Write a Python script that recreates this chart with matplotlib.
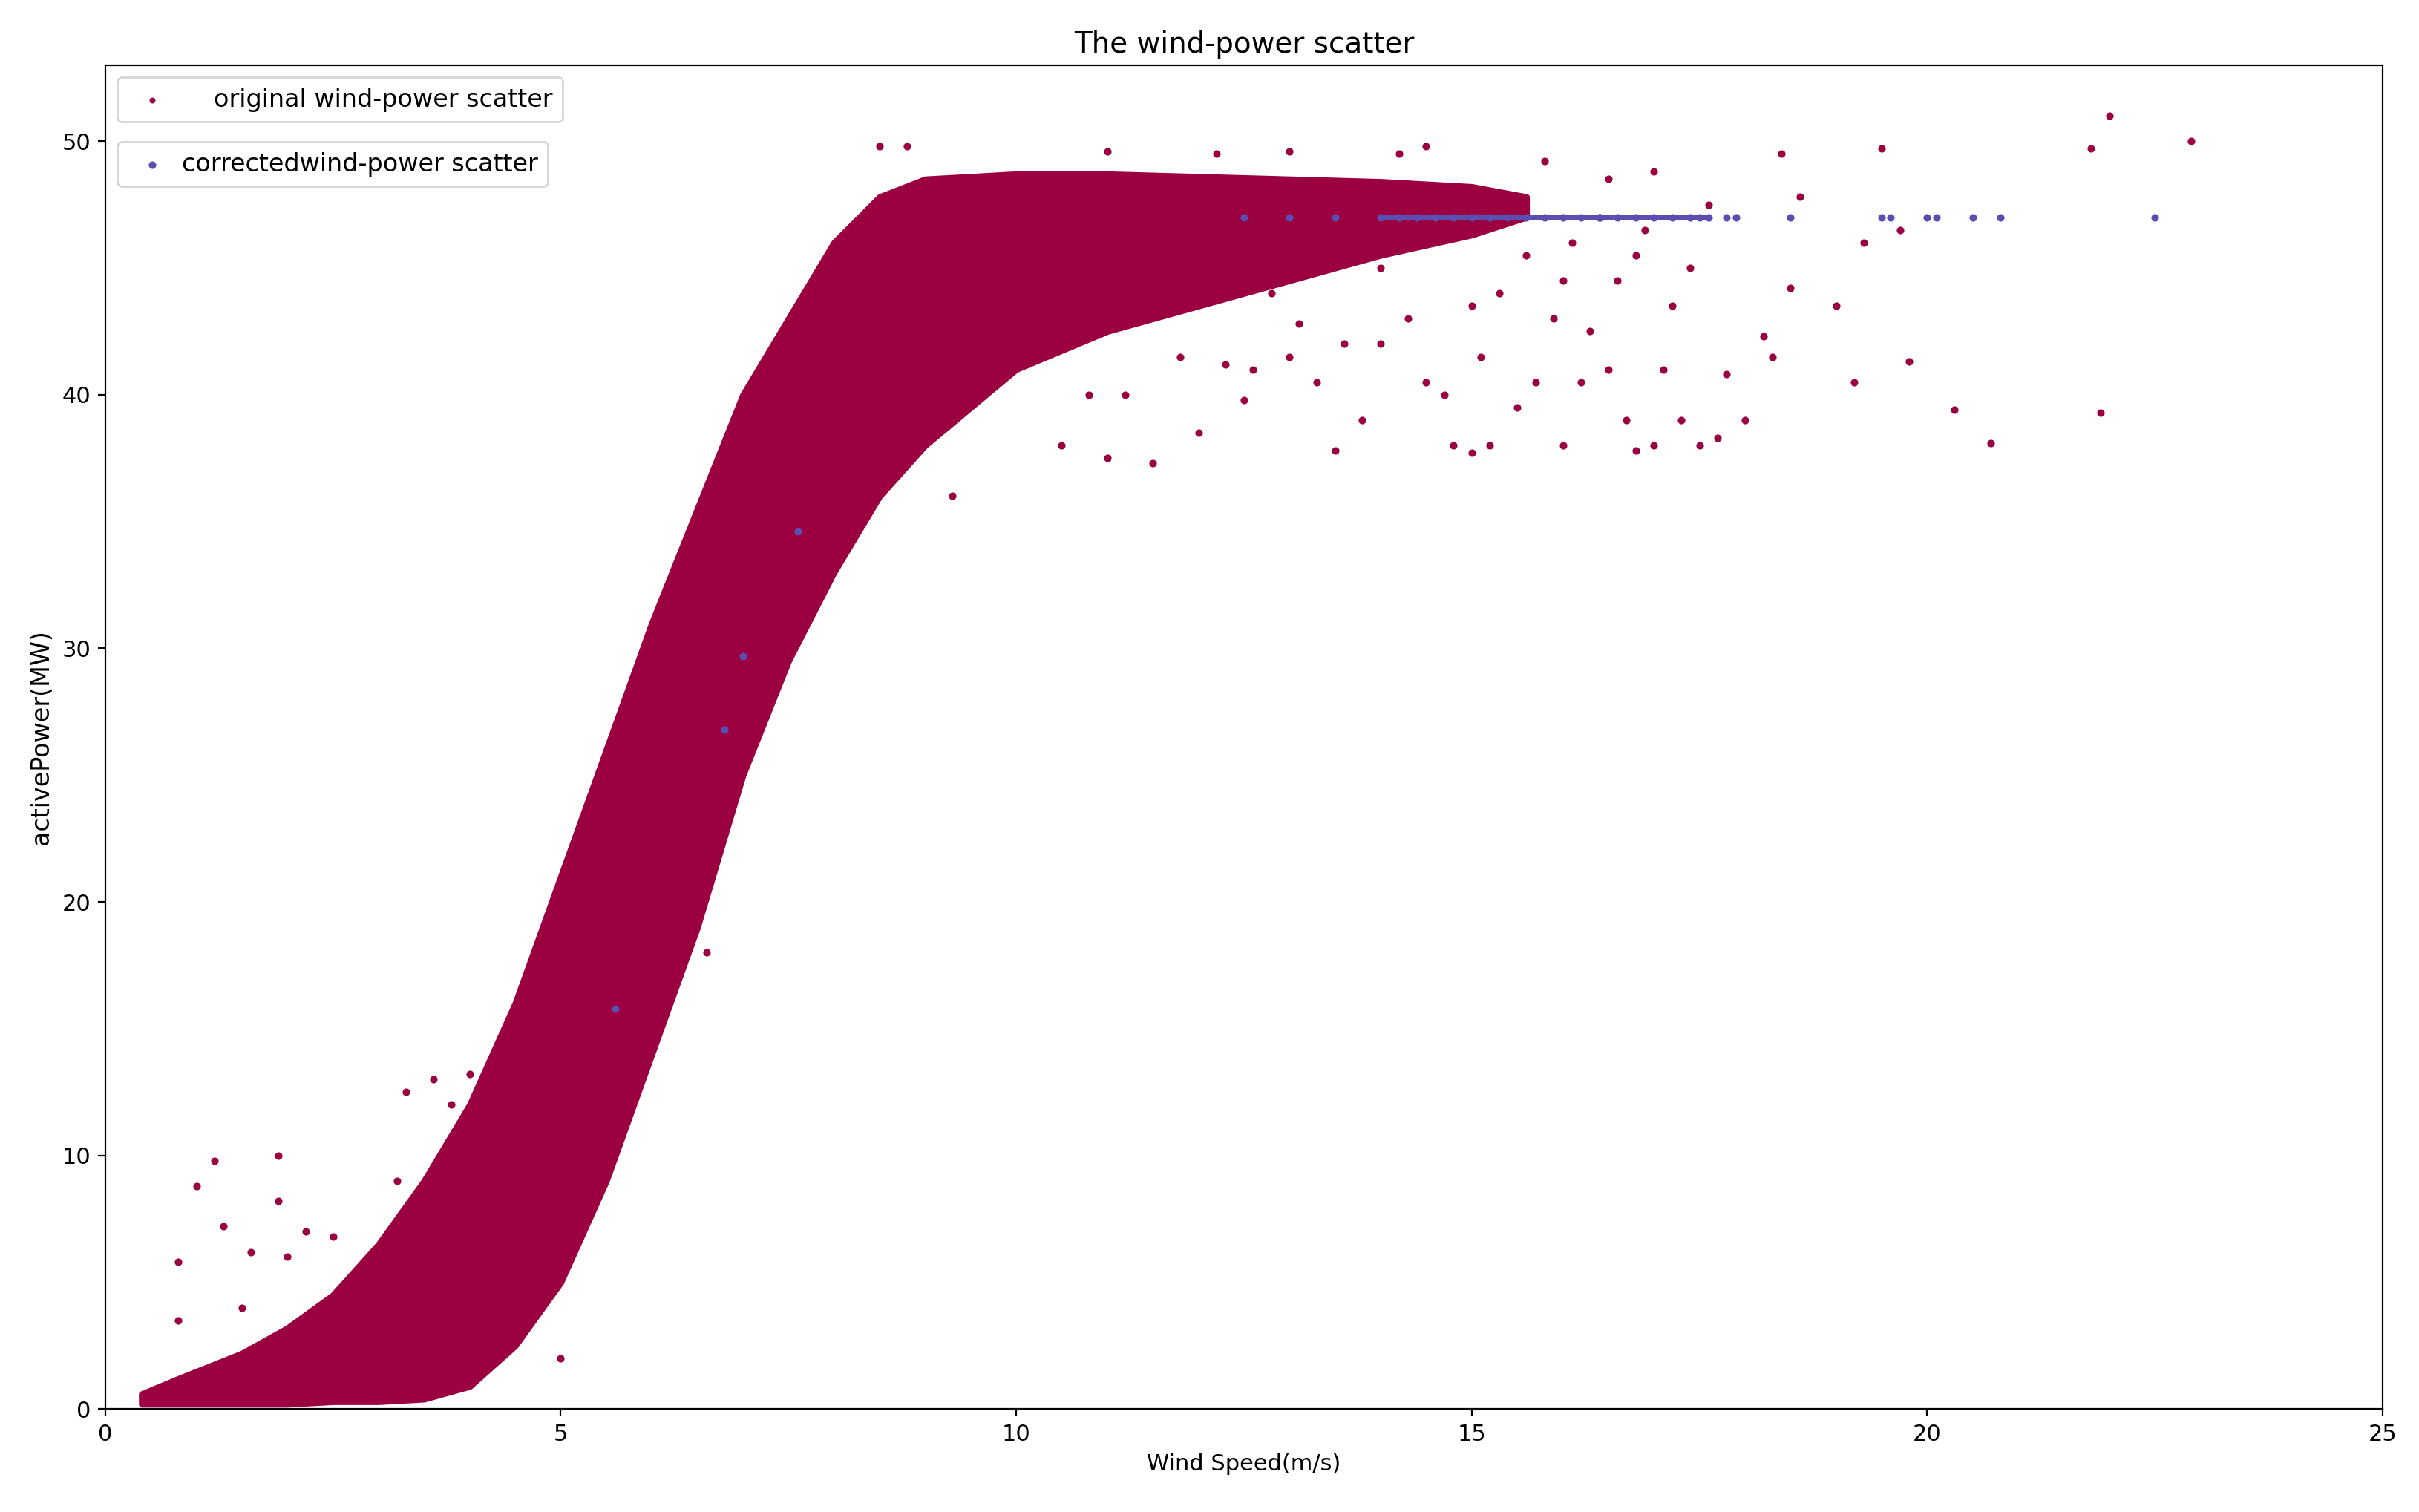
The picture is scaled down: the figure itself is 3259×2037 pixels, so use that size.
import matplotlib
matplotlib.use("Agg")
import matplotlib.pyplot as plt

plt.rcParams['font.family'] = ['DejaVu Sans']

# Dense band of original scatter: wind speed, lower and upper power edge (MW)
band_x = [0.4, 0.8, 1.5, 2.0, 2.5, 3.0, 3.5, 4.0, 4.5, 5.0, 5.5, 6.0, 6.5, 7.0, 7.5, 8.0, 8.5, 9.0, 9.5, 10.0, 11.0, 12.0, 13.0, 14.0, 15.0, 15.6]
band_lo = [0.2, 0.2, 0.2, 0.2, 0.3, 0.3, 0.4, 0.9, 2.5, 5.0, 9.0, 14.0, 19.0, 25.0, 29.5, 33.0, 36.0, 38.0, 39.5, 41.0, 42.5, 43.5, 44.5, 45.5, 46.3, 47.0]
band_hi = [0.6, 1.2, 2.2, 3.2, 4.5, 6.5, 9.0, 12.0, 16.0, 21.0, 26.0, 31.0, 35.5, 40.0, 43.0, 46.0, 47.8, 48.5, 48.6, 48.7, 48.7, 48.6, 48.5, 48.4, 48.2, 47.8]

# Sparse original points
orig_x = [0.5, 0.8, 0.8, 1.0, 1.2, 1.3, 1.5, 1.6, 1.9, 1.9, 2.0, 2.2, 2.5, 2.8, 3.2, 3.3, 3.6, 3.8, 4.0, 4.2, 5.0, 4.9, 5.5, 6.6, 7.2, 7.5, 8.5, 8.8, 9.0, 9.3, 10.5, 11.0, 11.2, 11.5, 12.0, 12.5, 13.0, 13.3, 13.5, 13.8, 14.0, 14.2, 14.5, 14.8, 15.0, 15.2, 15.5, 15.7, 16.0, 16.2, 16.5, 16.7, 16.8, 17.0, 17.1, 17.3, 17.5, 17.7, 17.8, 18.0, 18.2, 18.3, 18.4, 18.5, 18.6, 19.0, 19.2, 19.3, 19.5, 19.7, 19.8, 20.3, 20.7, 21.8, 21.9, 22.0, 22.9, 11.0, 12.2, 13.0, 14.5, 15.8, 16.5, 17.0, 10.2, 12.8, 14.0, 15.0, 16.0, 15.6, 15.9, 16.1, 16.3, 16.6, 16.9, 17.2, 17.4, 15.3, 14.3, 13.6, 12.6, 11.8, 10.8, 16.4, 16.8, 17.6, 15.1, 14.7, 13.1, 12.3]
orig_y = [0.5, 5.8, 3.5, 8.8, 9.8, 7.2, 4.0, 6.2, 10.0, 8.2, 6.0, 7.0, 6.8, 5.0, 9.0, 12.5, 13.0, 12.0, 13.2, 10.0, 2.0, 18.3, 24.3, 18.0, 38.0, 40.0, 49.8, 49.8, 47.5, 36.0, 38.0, 37.5, 40.0, 37.3, 38.5, 39.8, 41.5, 40.5, 37.8, 39.0, 42.0, 49.5, 40.5, 38.0, 37.7, 38.0, 39.5, 40.5, 38.0, 40.5, 41.0, 39.0, 37.8, 38.0, 41.0, 39.0, 38.0, 38.3, 40.8, 39.0, 42.3, 41.5, 49.5, 44.2, 47.8, 43.5, 40.5, 46.0, 49.7, 46.5, 41.3, 39.4, 38.1, 49.7, 39.3, 51.0, 50.0, 49.6, 49.5, 49.6, 49.8, 49.2, 48.5, 48.8, 43.0, 44.0, 45.0, 43.5, 44.5, 45.5, 43.0, 46.0, 42.5, 44.5, 46.5, 43.5, 45.0, 44.0, 43.0, 42.0, 41.0, 41.5, 40.0, 47.0, 45.5, 47.5, 41.5, 40.0, 42.8, 41.2]

# Corrected points
corr_x = [5.6, 6.8, 7.0, 7.6, 12.5, 13.0, 13.5, 14.0, 14.2, 14.4, 14.6, 14.8, 15.0, 15.2, 15.4, 15.6, 15.8, 16.0, 16.2, 16.4, 16.6, 16.8, 17.0, 17.2, 17.4, 17.5, 17.6, 17.8, 17.9, 18.5, 19.5, 19.6, 20.0, 20.1, 20.5, 20.8, 22.5]
corr_y = [15.8, 26.8, 29.7, 34.6, 47.0, 47.0, 47.0, 47.0, 47.0, 47.0, 47.0, 47.0, 47.0, 47.0, 47.0, 47.0, 47.0, 47.0, 47.0, 47.0, 47.0, 47.0, 47.0, 47.0, 47.0, 47.0, 47.0, 47.0, 47.0, 47.0, 47.0, 47.0, 47.0, 47.0, 47.0, 47.0, 47.0]

red = "#9b0041"
blue = "#5a4fb0"

fig = plt.figure(figsize=(16.295, 10.185), dpi=200)
ax = fig.add_axes([0.0435, 0.068, 0.9415, 0.889])
ax.fill_between(band_x, band_lo, band_hi, color=red, lw=3, edgecolor=red, zorder=1)
h1 = ax.scatter(orig_x, orig_y, s=7, color=red, zorder=2)
h2 = ax.scatter(corr_x, corr_y, s=7, color=blue, zorder=3)
ax.plot([14.0, 17.6], [47.0, 47.0], color=blue, lw=2.2, zorder=3)

ax.set_xlim(0, 25)
ax.set_ylim(0, 53)
ax.set_xticks([0, 5, 10, 15, 20, 25])
ax.set_yticks([0, 10, 20, 30, 40, 50])
ax.tick_params(labelsize=11)
ax.set_title("The wind-power scatter", fontsize=14)
ax.set_xlabel("Wind Speed(m/s)", fontsize=11)
ax.set_ylabel("activePower(MW)", fontsize=12)

leg1 = ax.legend([h1], ["original wind-power scatter"], loc="upper left", fontsize=12,
                 bbox_to_anchor=(0.0, 1.0), markerscale=0.7, handletextpad=1.5)
ax.add_artist(leg1)
ax.legend([h2], ["correctedwind-power scatter"], loc="upper left", fontsize=12,
          bbox_to_anchor=(0.0, 0.952), markerscale=1.0, handletextpad=0.2)
fig.savefig("out.png", dpi=200)
